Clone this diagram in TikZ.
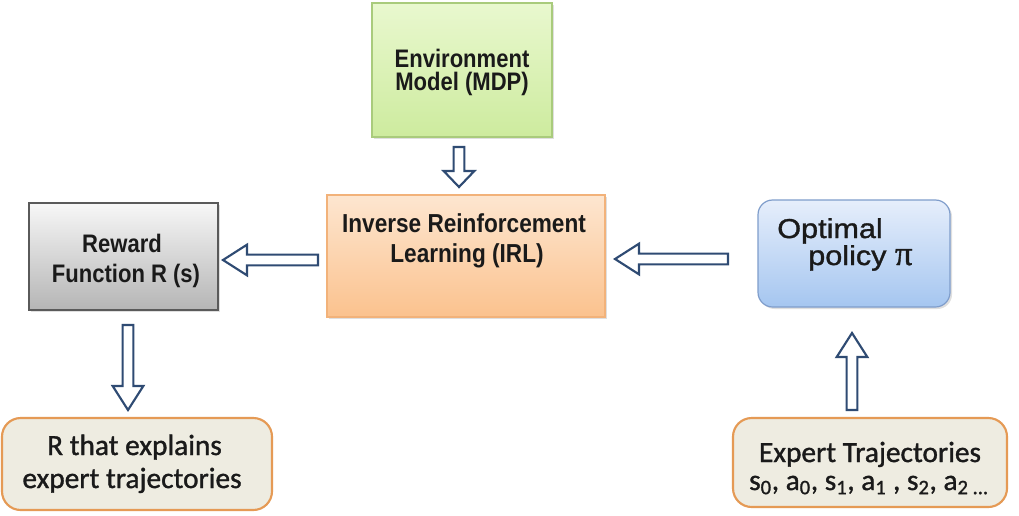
\documentclass[tikz,border=0pt]{standalone}
\usepackage{fontspec}
\setmainfont{Liberation Sans}
\newfontfamily\boldfont{Liberation Sans Bold}[FakeStretch=0.87]
\newfontfamily\calfont{Carlito}[FakeBold=1.2]
\newfontfamily\optfont{Liberation Sans}[FakeStretch=1.12, FakeBold=1.2]
\newfontfamily\pifont{Liberation Serif}[FakeBold=1.2]
\usetikzlibrary{calc,shadows}
\definecolor{arrowblue}{HTML}{2F4B73}
\definecolor{envtop}{HTML}{E9F8CF}
\definecolor{envbot}{HTML}{CDEB9E}
\definecolor{envline}{HTML}{A9CB7C}
\definecolor{irltop}{HTML}{FDE6D0}
\definecolor{irlbot}{HTML}{FBC28E}
\definecolor{irlline}{HTML}{F2B27A}
\definecolor{rewtop}{HTML}{F7F7F7}
\definecolor{rewbot}{HTML}{B5B5B5}
\definecolor{rewline}{HTML}{5A5A5A}
\definecolor{opttop}{HTML}{E6EEFB}
\definecolor{optbot}{HTML}{A5C6F0}
\definecolor{optline}{HTML}{7F9DCB}
\definecolor{beige}{HTML}{EEECE1}
\definecolor{orangeline}{HTML}{E59A55}
\definecolor{txt}{HTML}{1A1A1A}
\tikzset{
  box/.style={line width=0.9pt, inner sep=0pt,
    drop shadow={shadow xshift=1.5pt, shadow yshift=-1.5pt, opacity=0.25}},
  envbox/.style={box, draw=envline, top color=envtop, bottom color=envbot},
  irlbox/.style={box, draw=irlline, top color=irltop, bottom color=irlbot},
  rewbox/.style={box, draw=rewline, top color=rewtop, bottom color=rewbot},
  optbox/.style={box, draw=optline, top color=opttop, bottom color=optbot, rounded corners=11pt},
  beigebox/.style={line width=1.6pt, inner sep=0pt, draw=orangeline, fill=beige, rounded corners=14pt},
  boldtxt/.style={inner sep=0pt, anchor=base, text=txt, font=\boldfont\fontsize{19}{20}\selectfont},
  caltxt/.style={inner sep=0pt, anchor=base, text=txt, font=\calfont\fontsize{22}{24}\selectfont},
  opttxt/.style={inner sep=0pt, anchor=base west, text=txt, font=\optfont\fontsize{20.5}{22}\selectfont},
  fatarrowline/.style={draw=arrowblue, fill=white, line width=1.6pt, line join=miter}
}
\newcommand\fatarrow[3][18pt]{%
  \coordinate (fa-h) at ($(#3)!#1!(#2)$);
  \path[fatarrowline] ($(#2)!4pt!90:(#3)$) -- ($(fa-h)!4pt!-90:(#2)$)
    -- ($(fa-h)!11.5pt!-90:(#2)$) -- (#3) -- ($(fa-h)!11.5pt!90:(#2)$)
    -- ($(fa-h)!4pt!90:(#2)$) -- ($(#2)!4pt!-90:(#3)$) -- cycle;}
\begin{document}
\begin{tikzpicture}[x=0.75pt, y=-0.75pt]
\useasboundingbox[fill=white] (0,0) rectangle (1019,515);

% boxes
\node[envbox, minimum width={180*0.75pt}, minimum height={134*0.75pt}] (env) at (462,70) {};
\node[irlbox, minimum width={278*0.75pt}, minimum height={122*0.75pt}] (irl) at (466,256) {};
\node[rewbox, minimum width={189*0.75pt}, minimum height={107*0.75pt}] (rew) at (123.5,256.5) {};
\node[optbox, minimum width={192*0.75pt}, minimum height={107*0.75pt}] (opt) at (854,253.5) {};
\node[beigebox, minimum width={270*0.75pt}, minimum height={92*0.75pt}] (rres) at (137,464) {};
\node[beigebox, minimum width={274*0.75pt}, minimum height={89*0.75pt}] (expert) at (870,462.5) {};

% texts
\node[boldtxt] (envt1) at (462,67) {Environment};
\node[boldtxt] (envt2) at (462,90) {Model (MDP)};
\node[boldtxt, font=\boldfont\fontsize{19.5}{20}\selectfont] (irlt1) at (464,232) {Inverse Reinforcement};
\node[boldtxt, font=\boldfont\fontsize{19.5}{20}\selectfont] (irlt2) at (467,262) {Learning (IRL)};
\node[boldtxt] (rewt1) at (122,252) {Reward};
\node[boldtxt] (rewt2) at (126,282) {Function R (s)};
\node[opttxt] (optt1) at (777,238) {Optimal};
\node[opttxt] (optt2) at (808,265) {policy {\pifont\fontsize{26}{26}\selectfont π}};
\node[caltxt] (rrest1) at (134.5,455) {R that explains};
\node[caltxt] (rrest2) at (132,488) {expert trajectories};
\node[caltxt] (expt1) at (870,462) {Expert Trajectories};
\node[caltxt] (expt2) at (869,490) {s\textsubscript{0}, a\textsubscript{0}, s\textsubscript{1}, a\textsubscript{1} , s\textsubscript{2}, a\textsubscript{2 ...}};

% connector end points
\coordinate (a1s) at (459,147);
\coordinate (a1e) at (459,187);
\coordinate (a2s) at (318,260);
\coordinate (a2e) at (223,260);
\coordinate (a3s) at (728,259);
\coordinate (a3e) at (615,259);
\coordinate (a4s) at (128,325);
\coordinate (a4e) at (128,410);
\coordinate (a5s) at (852,410);
\coordinate (a5e) at (852,333);

\fatarrow[12pt]{a1s}{a1e}
\fatarrow{a2s}{a2e}
\fatarrow{a3s}{a3e}
\fatarrow{a4s}{a4e}
\fatarrow{a5s}{a5e}
\end{tikzpicture}
\end{document}
